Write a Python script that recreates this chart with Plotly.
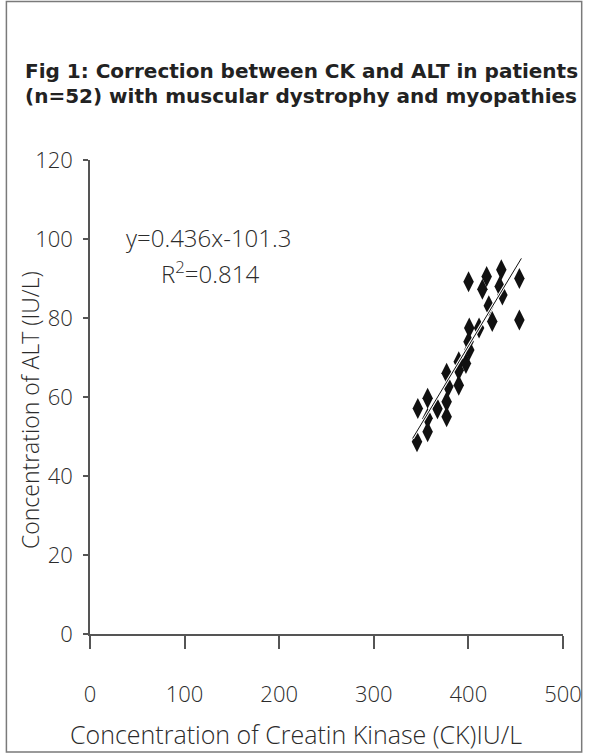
import plotly.graph_objects as go

# Data
ck = [400.2, 419.3, 414.8, 434.8, 433.1, 435.9, 453.9, 453.9, 421.6, 425.2,
      411.3, 400.9, 400.2, 400.9, 389.8, 397.4, 389.8, 377.0, 389.8, 378.7,
      377.0, 377.0, 356.9, 346.5, 367.3, 356.9, 356.9, 345.7]
alt = [89.2, 90.5, 87.3, 92.2, 88.0, 85.8, 90.0, 79.5, 83.1, 79.1,
       77.5, 77.5, 74.0, 71.9, 68.9, 68.5, 66.8, 66.0, 63.0, 62.6,
       58.8, 55.0, 59.7, 57.1, 57.0, 54.6, 51.2, 48.7]
trend_x = [341, 456]
trend_y = [49.5, 95.1]
x_ticks = [0, 100, 200, 300, 400, 500]
y_ticks = [0, 20, 40, 60, 80, 100, 120]

W, H = 594, 756
L, R, T, B = 90, 23, 160, 122
pw, ph = W - L - R, H - T - B

def px(xp):
    return (xp - L) / pw

def py(yp):
    return (H - B - yp) / ph

FONT = "Open Sans"
TFONT = "DejaVu Sans"
TXT = "#2b2b2b"

fig = go.Figure()
fig.add_trace(go.Scatter(x=ck, y=alt, mode="markers",
                         marker=dict(symbol="diamond-tall", size=15, color="#111111",
                                     line=dict(width=0)),
                         showlegend=False))
fig.add_trace(go.Scatter(x=trend_x, y=trend_y, mode="lines",
                         line=dict(color="white", width=3), showlegend=False))
fig.add_trace(go.Scatter(x=trend_x, y=trend_y, mode="lines",
                         line=dict(color="#111111", width=1), showlegend=False))

fig.update_layout(
    width=W, height=H,
    margin=dict(l=L, r=R, t=T, b=B),
    paper_bgcolor="white", plot_bgcolor="white",
    font=dict(family=FONT, size=22, color=TXT, weight=300),
    xaxis=dict(range=[0, 500], tickvals=x_ticks, showgrid=False, zeroline=False,
               showline=True, linecolor="#555555", linewidth=1.5,
               ticks="outside", ticklen=13, tickwidth=1.5, tickcolor="#555555",
               ticklabelstandoff=27, fixedrange=True),
    yaxis=dict(range=[0, 120], tickvals=y_ticks, showgrid=False, zeroline=False,
               showline=True, linecolor="#555555", linewidth=1.5,
               ticks="outside", ticklen=5, tickwidth=1.5, tickcolor="#555555",
               ticklabelstandoff=6, fixedrange=True),
)

ann = []
ann.append(dict(text="<b>Fig 1: Correction between CK and ALT in patients</b>",
                xref="paper", yref="paper", x=px(22), y=py(71), xanchor="left", yanchor="middle",
                showarrow=False, font=dict(family=TFONT, size=20, color="#222222", weight=700)))
ann.append(dict(text="<b>(n=52) with muscular dystrophy and myopathies</b>",
                xref="paper", yref="paper", x=px(22), y=py(96), xanchor="left", yanchor="middle",
                showarrow=False, font=dict(family=TFONT, size=20, color="#222222", weight=700)))
ann.append(dict(text="Concentration of Creatin Kinase (CK)IU/L",
                xref="paper", yref="paper", x=px(299), y=py(734), xanchor="center", yanchor="middle",
                showarrow=False, font=dict(family=FONT, size=25, color=TXT, weight=300)))
ann.append(dict(text="Concentration of ALT (IU/L)", textangle=-90,
                xref="paper", yref="paper", x=px(29), y=py(410), xanchor="center", yanchor="middle",
                showarrow=False, font=dict(family=FONT, size=23, color=TXT, weight=300)))
ann.append(dict(text="y=0.436x-101.3", xref="x", yref="y", x=36.4, y=100.5,
                xanchor="left", yanchor="middle", showarrow=False,
                font=dict(family=FONT, size=24, color=TXT, weight=300)))
ann.append(dict(text="R<sup>2</sup>=0.814", xref="x", yref="y", x=72.8, y=91.4,
                xanchor="left", yanchor="middle", showarrow=False,
                font=dict(family=FONT, size=24, color=TXT, weight=300)))
fig.update_layout(annotations=ann)

fig.add_shape(type="rect", xref="paper", yref="paper",
              x0=px(5), x1=px(590), y0=py(752), y1=py(1.5),
              line=dict(color="#7a7a7a", width=1.5), fillcolor="rgba(0,0,0,0)", layer="below")

fig.write_html("out.html", config={"displayModeBar": False},
               post_script="document.body.style.margin='0';document.body.style.overflow='hidden';")
